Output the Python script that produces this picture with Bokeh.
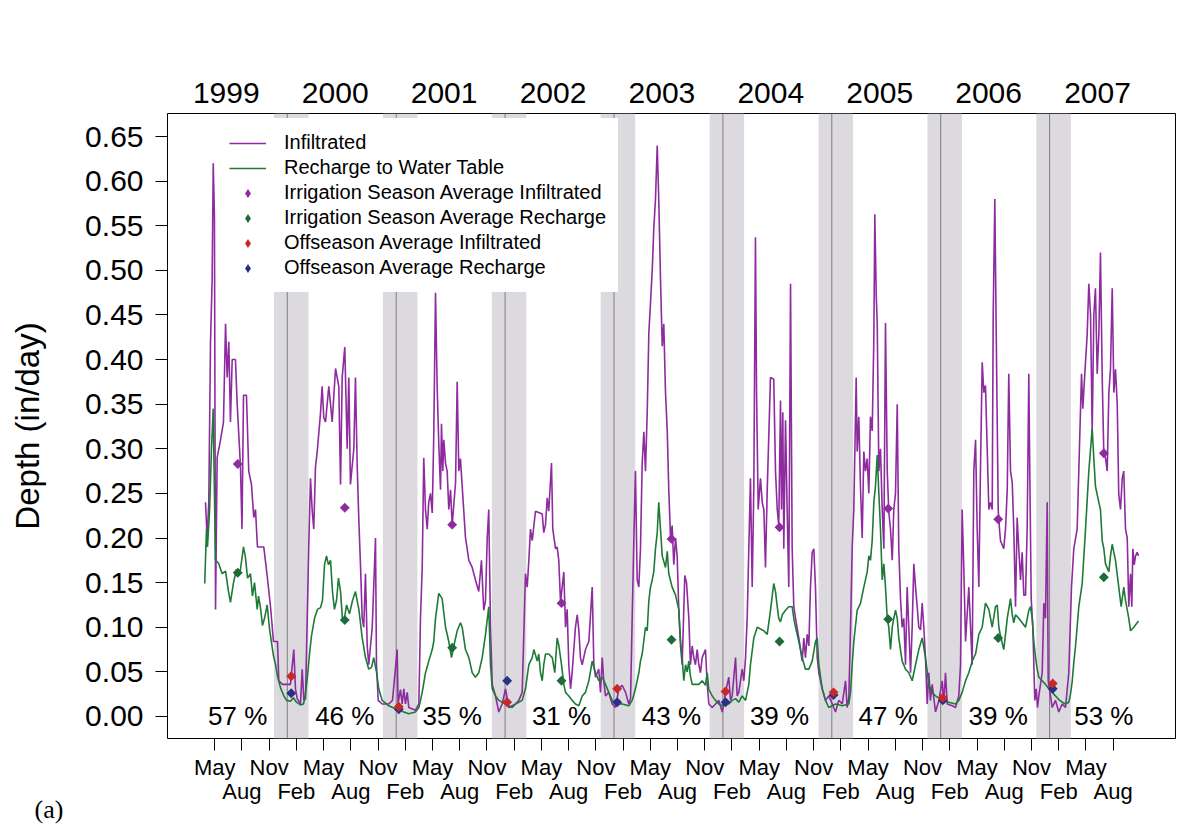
import numpy as np
from bokeh.plotting import figure
from bokeh.models import (FixedTicker, Range1d, LinearAxis, Legend, LegendItem,
                          BoxAnnotation, Span, Title, PrintfTickFormatter)
from bokeh.embed import file_html
from bokeh.resources import INLINE
from bokeh.core.properties import value

# ---------------- data (time in decimal years, depth in in/day) ----------------
inf_t = [1999.249, 1999.264, 1999.279, 1999.295, 1999.310, 1999.320, 1999.331, 1999.341, 1999.356, 1999.387,
         1999.414, 1999.433, 1999.448, 1999.463, 1999.478, 1999.494, 1999.524, 1999.540, 1999.570, 1999.584,
         1999.598, 1999.625, 1999.646, 1999.671, 1999.692, 1999.708, 1999.726, 1999.754, 1999.784, 1999.815,
         1999.846, 1999.873, 1999.910, 1999.922, 1999.956, 1999.993, 2000.029, 2000.060, 2000.075, 2000.091,
         2000.121, 2000.137, 2000.152, 2000.167, 2000.183, 2000.197, 2000.213, 2000.229, 2000.243, 2000.259,
         2000.275, 2000.305, 2000.320, 2000.335, 2000.351, 2000.381, 2000.397, 2000.412, 2000.443, 2000.473,
         2000.489, 2000.504, 2000.528, 2000.550, 2000.565, 2000.580, 2000.611, 2000.626, 2000.642, 2000.657,
         2000.672, 2000.688, 2000.702, 2000.718, 2000.734, 2000.748, 2000.780, 2000.810, 2000.819, 2000.835,
         2000.871, 2000.932, 2000.966, 2001.009, 2001.017, 2001.039, 2001.055, 2001.070, 2001.085, 2001.101,
         2001.116, 2001.177, 2001.208, 2001.223, 2001.239, 2001.253, 2001.269, 2001.285, 2001.299, 2001.315,
         2001.331, 2001.345, 2001.361, 2001.376, 2001.391, 2001.407, 2001.416, 2001.428, 2001.437, 2001.453,
         2001.468, 2001.483, 2001.499, 2001.514, 2001.545, 2001.560, 2001.575, 2001.590, 2001.606, 2001.636,
         2001.667, 2001.698, 2001.728, 2001.758, 2001.783, 2001.804, 2001.820, 2001.836, 2001.850, 2001.866,
         2001.882, 2001.912, 2001.942, 2001.973, 2002.004, 2002.034, 2002.096, 2002.126, 2002.157, 2002.187,
         2002.203, 2002.218, 2002.233, 2002.249, 2002.279, 2002.341, 2002.355, 2002.371, 2002.387, 2002.401,
         2002.426, 2002.438, 2002.463, 2002.478, 2002.493, 2002.509, 2002.539, 2002.555, 2002.570, 2002.585,
         2002.601, 2002.616, 2002.646, 2002.662, 2002.677, 2002.692, 2002.708, 2002.738, 2002.769, 2002.800,
         2002.815, 2002.830, 2002.860, 2002.876, 2002.892, 2002.906, 2002.922, 2002.952, 2002.983, 2003.014,
         2003.044, 2003.075, 2003.106, 2003.136, 2003.152, 2003.167, 2003.182, 2003.197, 2003.213, 2003.228,
         2003.243, 2003.259, 2003.274, 2003.289, 2003.305, 2003.320, 2003.335, 2003.351, 2003.365, 2003.381,
         2003.397, 2003.411, 2003.427, 2003.443, 2003.457, 2003.473, 2003.489, 2003.503, 2003.519, 2003.534,
         2003.549, 2003.565, 2003.580, 2003.595, 2003.611, 2003.626, 2003.650, 2003.666, 2003.687, 2003.702,
         2003.718, 2003.733, 2003.748, 2003.764, 2003.779, 2003.794, 2003.810, 2003.840, 2003.856, 2003.871,
         2003.902, 2003.932, 2003.962, 2003.994, 2004.008, 2004.024, 2004.054, 2004.070, 2004.085, 2004.116,
         2004.131, 2004.146, 2004.177, 2004.192, 2004.208, 2004.223, 2004.238, 2004.253, 2004.269, 2004.284,
         2004.299, 2004.309, 2004.324, 2004.345, 2004.361, 2004.376, 2004.391, 2004.407, 2004.437, 2004.467,
         2004.483, 2004.499, 2004.513, 2004.529, 2004.538, 2004.550, 2004.559, 2004.575, 2004.590, 2004.605,
         2004.621, 2004.636, 2004.651, 2004.667, 2004.697, 2004.728, 2004.743, 2004.758, 2004.774, 2004.789,
         2004.804, 2004.820, 2004.835, 2004.850, 2004.866, 2004.881, 2004.912, 2004.942, 2004.972, 2005.004,
         2005.034, 2005.064, 2005.096, 2005.126, 2005.141, 2005.156, 2005.172, 2005.187, 2005.202, 2005.224,
         2005.233, 2005.248, 2005.264, 2005.279, 2005.294, 2005.309, 2005.325, 2005.340, 2005.355, 2005.371,
         2005.386, 2005.395, 2005.408, 2005.417, 2005.432, 2005.447, 2005.463, 2005.478, 2005.493, 2005.509,
         2005.523, 2005.539, 2005.555, 2005.569, 2005.585, 2005.601, 2005.615, 2005.631, 2005.646, 2005.661,
         2005.677, 2005.692, 2005.707, 2005.723, 2005.738, 2005.753, 2005.769, 2005.784, 2005.799, 2005.815,
         2005.830, 2005.845, 2005.860, 2005.876, 2005.891, 2005.906, 2005.922, 2005.952, 2005.983, 2006.014,
         2006.028, 2006.044, 2006.060, 2006.106, 2006.136, 2006.166, 2006.182, 2006.197, 2006.212, 2006.228,
         2006.258, 2006.274, 2006.289, 2006.304, 2006.320, 2006.335, 2006.350, 2006.365, 2006.381, 2006.396,
         2006.411, 2006.427, 2006.442, 2006.457, 2006.473, 2006.482, 2006.497, 2006.508, 2006.528, 2006.540,
         2006.549, 2006.579, 2006.595, 2006.611, 2006.625, 2006.641, 2006.657, 2006.671, 2006.687, 2006.702,
         2006.717, 2006.733, 2006.748, 2006.763, 2006.779, 2006.794, 2006.809, 2006.818, 2006.831, 2006.846,
         2006.864, 2006.877, 2006.889, 2006.901, 2006.932, 2006.947, 2006.962, 2006.978, 2006.987, 2007.008,
         2007.024, 2007.054, 2007.084, 2007.116, 2007.146, 2007.176, 2007.201, 2007.222, 2007.253, 2007.268,
         2007.293, 2007.305, 2007.323, 2007.345, 2007.360, 2007.376, 2007.391, 2007.406, 2007.421, 2007.437,
         2007.452, 2007.467, 2007.483, 2007.498, 2007.513, 2007.529, 2007.544, 2007.559, 2007.575, 2007.590,
         2007.605, 2007.621, 2007.635, 2007.651, 2007.667, 2007.681, 2007.697, 2007.713, 2007.727, 2007.743,
         2007.755, 2007.764, 2007.777, 2007.789, 2007.804, 2007.816]
inf_v = [0.24, 0.20, 0.24, 0.42, 0.49, 0.62, 0.56, 0.12, 0.29, 0.31,
         0.33, 0.44, 0.38, 0.42, 0.33, 0.40, 0.40, 0.35, 0.28, 0.21,
         0.36, 0.36, 0.275, 0.26, 0.223, 0.232, 0.19, 0.19, 0.19, 0.158,
         0.123, 0.084, 0.084, 0.04, 0.036, 0.036, 0.036, 0.075, 0.031, 0.02,
         0.014, 0.053, 0.018, 0.02, 0.11, 0.19, 0.267, 0.23, 0.21, 0.28,
         0.297, 0.34, 0.37, 0.335, 0.33, 0.37, 0.35, 0.33, 0.39, 0.37,
         0.26, 0.38, 0.414, 0.30, 0.38, 0.26, 0.30, 0.38, 0.28, 0.22,
         0.17, 0.11, 0.10, 0.16, 0.079, 0.058, 0.10, 0.20, 0.058, 0.018,
         0.014, 0.014, 0.018, 0.075, 0.014, 0.03, 0.014, 0.031, 0.014, 0.027,
         0.01, 0.007, 0.014, 0.11, 0.167, 0.29, 0.232, 0.21, 0.24, 0.25,
         0.228, 0.315, 0.475, 0.37, 0.306, 0.254, 0.328, 0.275, 0.31, 0.284,
         0.275, 0.232, 0.254, 0.214, 0.262, 0.375, 0.275, 0.289, 0.258, 0.201,
         0.175, 0.167, 0.153, 0.14, 0.175, 0.119, 0.13, 0.2, 0.232, 0.10,
         0.036, 0.023, 0.005, 0.014, 0.031, 0.01, 0.014, 0.018, 0.027, 0.16,
         0.145, 0.175, 0.21, 0.197, 0.23, 0.227, 0.206, 0.215, 0.245, 0.23,
         0.284, 0.21, 0.188, 0.19, 0.175, 0.128, 0.162, 0.10, 0.12, 0.058,
         0.031, 0.05, 0.10, 0.114, 0.097, 0.066, 0.058, 0.075, 0.084, 0.145,
         0.058, 0.044, 0.053, 0.027, 0.066, 0.04, 0.023, 0.027, 0.014, 0.01,
         0.031, 0.035, 0.027, 0.014, 0.02, 0.11, 0.197, 0.275, 0.153, 0.145,
         0.188, 0.284, 0.319, 0.275, 0.341, 0.43, 0.463, 0.50, 0.546, 0.58,
         0.64, 0.58, 0.49, 0.415, 0.44, 0.363, 0.32, 0.254, 0.2, 0.214,
         0.17, 0.2, 0.18, 0.119, 0.079, 0.058, 0.158, 0.15, 0.11, 0.058,
         0.079, 0.066, 0.058, 0.075, 0.058, 0.049, 0.066, 0.075, 0.036, 0.014,
         0.01, 0.014, 0.018, 0.005, 0.014, 0.027, 0.044, 0.018, 0.023, 0.066,
         0.023, 0.027, 0.053, 0.04, 0.066, 0.11, 0.188, 0.267, 0.145, 0.258,
         0.537, 0.363, 0.232, 0.267, 0.24, 0.232, 0.167, 0.254, 0.38, 0.378,
         0.275, 0.232, 0.214, 0.354, 0.232, 0.341, 0.188, 0.332, 0.232, 0.145,
         0.485, 0.188, 0.123, 0.11, 0.088, 0.062, 0.088, 0.066, 0.092, 0.079,
         0.145, 0.184, 0.188, 0.145, 0.066, 0.049, 0.031, 0.018, 0.023, 0.014,
         0.005, 0.018, 0.014, 0.04, 0.01, 0.02, 0.10, 0.188, 0.232, 0.38,
         0.297, 0.336, 0.254, 0.2, 0.297, 0.275, 0.289, 0.25, 0.336, 0.32,
         0.424, 0.563, 0.472, 0.441, 0.275, 0.30, 0.232, 0.188, 0.441, 0.275,
         0.23, 0.21, 0.175, 0.232, 0.25, 0.35, 0.188, 0.132, 0.10, 0.11,
         0.058, 0.145, 0.10, 0.049, 0.10, 0.171, 0.145, 0.123, 0.10, 0.097,
         0.127, 0.10, 0.066, 0.014, 0.049, 0.018, 0.036, 0.005, 0.018, 0.04,
         0.014, 0.049, 0.014, 0.012, 0.01, 0.023, 0.058, 0.232, 0.167, 0.084,
         0.145, 0.10, 0.058, 0.275, 0.31, 0.21, 0.145, 0.275, 0.397, 0.363,
         0.371, 0.30, 0.232, 0.24, 0.232, 0.45, 0.58, 0.45, 0.232, 0.21,
         0.197, 0.188, 0.21, 0.254, 0.384, 0.275, 0.262, 0.21, 0.123, 0.223,
         0.188, 0.153, 0.184, 0.136, 0.136, 0.21, 0.384, 0.275, 0.132, 0.10,
         0.018, 0.031, 0.01, 0.023, 0.049, 0.127, 0.11, 0.24, 0.04, 0.023,
         0.01, 0.018, 0.005, 0.014, 0.01, 0.049, 0.145, 0.188, 0.21, 0.275,
         0.384, 0.345, 0.384, 0.428, 0.485, 0.45, 0.319, 0.45, 0.48, 0.384,
         0.428, 0.52, 0.38, 0.293, 0.29, 0.275, 0.363, 0.389, 0.48, 0.363,
         0.389, 0.35, 0.249, 0.232, 0.267, 0.275, 0.21, 0.2, 0.123, 0.16,
         0.123, 0.188, 0.17, 0.18, 0.184, 0.18]

rch_t = [1999.242, 1999.258, 1999.267, 1999.286, 1999.304, 1999.320, 1999.331, 1999.341, 1999.368, 1999.402,
         1999.433, 1999.460, 1999.478, 1999.506, 1999.534, 1999.552, 1999.570, 1999.598, 1999.616, 1999.635,
         1999.662, 1999.680, 1999.699, 1999.724, 1999.736, 1999.754, 1999.772, 1999.791, 1999.815, 1999.837,
         1999.855, 1999.873, 1999.892, 1999.910, 1999.938, 1999.965, 1999.993, 2000.029, 2000.057, 2000.084,
         2000.121, 2000.149, 2000.167, 2000.185, 2000.204, 2000.222, 2000.250, 2000.277, 2000.305, 2000.323,
         2000.342, 2000.360, 2000.378, 2000.397, 2000.415, 2000.433, 2000.452, 2000.470, 2000.489, 2000.507,
         2000.525, 2000.544, 2000.571, 2000.599, 2000.626, 2000.657, 2000.688, 2000.718, 2000.748, 2000.773,
         2000.794, 2000.819, 2000.840, 2000.871, 2000.932, 2001.024, 2001.116, 2001.177, 2001.208, 2001.239,
         2001.269, 2001.299, 2001.331, 2001.345, 2001.361, 2001.391, 2001.422, 2001.453, 2001.483, 2001.508,
         2001.529, 2001.560, 2001.590, 2001.606, 2001.636, 2001.667, 2001.698, 2001.728, 2001.758, 2001.790,
         2001.820, 2001.850, 2001.866, 2001.882, 2001.912, 2001.942, 2002.004, 2002.065, 2002.096, 2002.157,
         2002.187, 2002.218, 2002.249, 2002.264, 2002.279, 2002.295, 2002.309, 2002.325, 2002.341, 2002.355,
         2002.371, 2002.401, 2002.433, 2002.456, 2002.478, 2002.493, 2002.518, 2002.539, 2002.555, 2002.585,
         2002.616, 2002.646, 2002.677, 2002.708, 2002.738, 2002.769, 2002.800, 2002.830, 2002.860, 2002.892,
         2002.922, 2002.952, 2002.983, 2003.014, 2003.075, 2003.136, 2003.167, 2003.197, 2003.228, 2003.243,
         2003.259, 2003.289, 2003.305, 2003.320, 2003.335, 2003.351, 2003.365, 2003.381, 2003.397, 2003.411,
         2003.427, 2003.443, 2003.473, 2003.489, 2003.503, 2003.534, 2003.565, 2003.595, 2003.611, 2003.626,
         2003.641, 2003.657, 2003.672, 2003.687, 2003.702, 2003.718, 2003.748, 2003.779, 2003.810, 2003.840,
         2003.856, 2003.871, 2003.902, 2003.932, 2003.962, 2003.994, 2004.024, 2004.054, 2004.085, 2004.116,
         2004.146, 2004.177, 2004.208, 2004.223, 2004.238, 2004.253, 2004.284, 2004.315, 2004.345, 2004.376,
         2004.407, 2004.437, 2004.467, 2004.483, 2004.499, 2004.513, 2004.529, 2004.545, 2004.575, 2004.605,
         2004.636, 2004.651, 2004.667, 2004.697, 2004.728, 2004.758, 2004.789, 2004.820, 2004.850, 2004.866,
         2004.881, 2004.912, 2004.942, 2004.972, 2005.034, 2005.096, 2005.156, 2005.172, 2005.187, 2005.202,
         2005.233, 2005.264, 2005.294, 2005.325, 2005.340, 2005.355, 2005.371, 2005.386, 2005.401, 2005.417,
         2005.432, 2005.447, 2005.463, 2005.478, 2005.493, 2005.509, 2005.523, 2005.539, 2005.555, 2005.569,
         2005.585, 2005.601, 2005.615, 2005.646, 2005.677, 2005.707, 2005.738, 2005.769, 2005.799, 2005.830,
         2005.860, 2005.891, 2005.922, 2005.952, 2006.014, 2006.074, 2006.136, 2006.166, 2006.197, 2006.228,
         2006.258, 2006.289, 2006.320, 2006.350, 2006.381, 2006.411, 2006.442, 2006.473, 2006.503, 2006.519,
         2006.534, 2006.549, 2006.579, 2006.595, 2006.611, 2006.641, 2006.657, 2006.671, 2006.687, 2006.717,
         2006.748, 2006.779, 2006.809, 2006.825, 2006.840, 2006.855, 2006.871, 2006.886, 2006.901, 2006.932,
         2006.962, 2006.993, 2007.024, 2007.054, 2007.084, 2007.116, 2007.146, 2007.176, 2007.192, 2007.208,
         2007.222, 2007.238, 2007.268, 2007.299, 2007.330, 2007.360, 2007.391, 2007.406, 2007.421, 2007.452,
         2007.467, 2007.483, 2007.498, 2007.513, 2007.544, 2007.559, 2007.575, 2007.590, 2007.605, 2007.635,
         2007.657, 2007.681, 2007.697, 2007.727, 2007.743, 2007.773, 2007.804, 2007.816]
rch_v = [0.149, 0.21, 0.19, 0.23, 0.30, 0.345, 0.25, 0.175, 0.172, 0.160,
         0.163, 0.14, 0.128, 0.15, 0.165, 0.158, 0.165, 0.19, 0.178, 0.155,
         0.16, 0.135, 0.15, 0.12, 0.135, 0.122, 0.102, 0.11, 0.125, 0.098,
         0.083, 0.068, 0.058, 0.045, 0.032, 0.024, 0.018, 0.017, 0.021, 0.016,
         0.013, 0.014, 0.025, 0.045, 0.07, 0.09, 0.11, 0.12, 0.122, 0.13,
         0.17, 0.18, 0.17, 0.175, 0.14, 0.12, 0.13, 0.155, 0.14, 0.108,
         0.11, 0.125, 0.115, 0.13, 0.14, 0.12, 0.088, 0.066, 0.053, 0.055,
         0.066, 0.05, 0.031, 0.018, 0.012, 0.007, 0.003, 0.005, 0.01, 0.027,
         0.049, 0.062, 0.075, 0.084, 0.11, 0.138, 0.132, 0.10, 0.084, 0.066,
         0.079, 0.096, 0.105, 0.10, 0.075, 0.066, 0.049, 0.044, 0.049, 0.066,
         0.092, 0.123, 0.058, 0.031, 0.023, 0.018, 0.014, 0.01, 0.014, 0.018,
         0.031, 0.058, 0.066, 0.075, 0.069, 0.062, 0.07, 0.049, 0.04, 0.058,
         0.07, 0.07, 0.066, 0.049, 0.088, 0.08, 0.058, 0.036, 0.027, 0.023,
         0.018, 0.014, 0.012, 0.023, 0.027, 0.04, 0.062, 0.049, 0.04, 0.044,
         0.036, 0.027, 0.018, 0.014, 0.014, 0.012, 0.018, 0.031, 0.049, 0.062,
         0.07, 0.10, 0.096, 0.13, 0.145, 0.153, 0.162, 0.188, 0.206, 0.24,
         0.21, 0.18, 0.167, 0.185, 0.16, 0.145, 0.136, 0.12, 0.084, 0.066,
         0.04, 0.058, 0.05, 0.062, 0.045, 0.036, 0.036, 0.036, 0.04, 0.035,
         0.049, 0.03, 0.023, 0.018, 0.014, 0.012, 0.016, 0.014, 0.018, 0.02,
         0.016, 0.023, 0.018, 0.027, 0.036, 0.058, 0.088, 0.10, 0.098, 0.096,
         0.092, 0.119, 0.149, 0.14, 0.123, 0.11, 0.106, 0.114, 0.119, 0.123,
         0.123, 0.11, 0.10, 0.084, 0.066, 0.053, 0.053, 0.062, 0.084, 0.088,
         0.058, 0.031, 0.018, 0.01, 0.014, 0.012, 0.014, 0.027, 0.058, 0.084,
         0.119, 0.127, 0.145, 0.162, 0.18, 0.175, 0.197, 0.24, 0.258, 0.293,
         0.25, 0.21, 0.153, 0.171, 0.145, 0.11, 0.10, 0.075, 0.10, 0.11,
         0.119, 0.11, 0.088, 0.062, 0.053, 0.049, 0.04, 0.058, 0.075, 0.088,
         0.066, 0.036, 0.027, 0.023, 0.018, 0.016, 0.014, 0.018, 0.027, 0.04,
         0.049, 0.062, 0.07, 0.092, 0.10, 0.127, 0.12, 0.10, 0.123, 0.125,
         0.10, 0.09, 0.075, 0.092, 0.11, 0.132, 0.114, 0.105, 0.114, 0.11,
         0.105, 0.10, 0.119, 0.123, 0.11, 0.084, 0.066, 0.053, 0.044, 0.04,
         0.036, 0.031, 0.027, 0.023, 0.019, 0.016, 0.014, 0.016, 0.025, 0.04,
         0.06, 0.079, 0.123, 0.149, 0.21, 0.275, 0.323, 0.289, 0.258, 0.24,
         0.232, 0.197, 0.188, 0.171, 0.162, 0.18, 0.193, 0.184, 0.175, 0.145,
         0.123, 0.145, 0.13, 0.11, 0.096, 0.10, 0.105, 0.107]

# season averages
irr_t = [1999.545, 2000.528, 2001.514, 2002.518, 2003.528, 2004.520, 2005.518, 2006.528, 2007.498]
irr_inf = [0.283, 0.234, 0.215, 0.127, 0.199, 0.212, 0.233, 0.221, 0.295]
irr_rch = [0.161, 0.108, 0.077, 0.040, 0.086, 0.084, 0.109, 0.088, 0.156]
pct = [57, 46, 35, 31, 43, 39, 47, 39, 53]

off_t = [2000.036, 2001.024, 2002.019, 2003.029, 2004.024, 2005.016, 2006.019, 2007.029]
off_inf = [0.045, 0.011, 0.016, 0.031, 0.028, 0.027, 0.021, 0.037]
off_rch = [0.026, 0.008, 0.040, 0.016, 0.016, 0.024, 0.018, 0.031]

years = [1999, 2000, 2001, 2002, 2003, 2004, 2005, 2006, 2007]
y_ticks = [0.00, 0.05, 0.10, 0.15, 0.20, 0.25, 0.30, 0.35, 0.40, 0.45, 0.50, 0.55, 0.60, 0.65]
month_names = {2: "Feb", 5: "May", 8: "Aug", 11: "Nov"}
offseason_start, offseason_end = -0.122, 0.195   # relative to Jan 1

# ---------------- styling ----------------
FONT = "Liberation Sans"
PURPLE = "#8e2b9f"
GREEN = "#1f7a37"
GREEN_PT = "#1d6b38"
RED = "#c9282a"
BLUE = "#2b2f86"
BAND = "#dcdadf"

p = figure(width=1189, height=834, output_backend="svg", toolbar_location=None,
           x_range=Range1d(1998.900, 2008.156), y_range=Range1d(-0.0247, 0.6758),
           min_border_left=167, min_border_right=14, min_border_top=113, min_border_bottom=96,
           background_fill_color="white", border_fill_color="white",
           outline_line_color="black", outline_line_width=1)
p.xgrid.visible = False
p.ygrid.visible = False

# offseason bands and year boundaries
for y in years[1:]:
    p.add_layout(BoxAnnotation(left=y + offseason_start, right=y + offseason_end,
                               fill_color=BAND, fill_alpha=1.0, line_color=None, level="underlay"))
    p.add_layout(Span(location=y, dimension="height", line_color="#7d7d7d",
                      line_width=1, level="underlay"))

r_inf = p.line(inf_t, inf_v, line_color=PURPLE, line_width=1.6)
r_rch = p.line(rch_t, rch_v, line_color=GREEN, line_width=1.6)

dkw = dict(marker="square", angle=np.pi / 4, size=7, line_width=0)
p.scatter(irr_t, irr_inf, fill_color=PURPLE, **dkw)
p.scatter(irr_t, irr_rch, fill_color=GREEN_PT, **dkw)
p.scatter(off_t, off_rch, fill_color=BLUE, **dkw)
p.scatter(off_t, off_inf, fill_color=RED, **dkw)

p.text(x=irr_t, y=[0] * len(irr_t), text=[f"{v} %" for v in pct],
       text_font=value(FONT), text_font_size="26px", text_color="black",
       text_align="center", text_baseline="middle")

# legend proxies (not drawn in the plot: NaN positions)
lg_pi = p.scatter([np.nan], [np.nan], marker="diamond", fill_color=PURPLE, line_color=None)
lg_gi = p.scatter([np.nan], [np.nan], marker="diamond", fill_color=GREEN_PT, line_color=None)
lg_ro = p.scatter([np.nan], [np.nan], marker="diamond", fill_color=RED, line_color=None)
lg_bo = p.scatter([np.nan], [np.nan], marker="diamond", fill_color=BLUE, line_color=None)

legend = Legend(items=[
    LegendItem(label=value("Infiltrated"), renderers=[r_inf]),
    LegendItem(label=value("Recharge to Water Table"), renderers=[r_rch]),
    LegendItem(label=value("Irrigation Season Average Infiltrated"), renderers=[lg_pi]),
    LegendItem(label=value("Irrigation Season Average Recharge"), renderers=[lg_gi]),
    LegendItem(label=value("Offseason Average Infiltrated"), renderers=[lg_ro]),
    LegendItem(label=value("Offseason Average Recharge"), renderers=[lg_bo]),
], location=(50, 446), margin=0, padding=0, spacing=0,
    glyph_width=37, glyph_height=22, label_height=25, label_standoff=18,
    label_text_font=FONT, label_text_font_size="20px", label_text_color="black",
    border_line_color="white", border_line_width=12,
    background_fill_color="white", background_fill_alpha=1.0)
p.add_layout(legend)

# y axis
ya = p.yaxis[0]
ya.ticker = FixedTicker(ticks=y_ticks)
ya.formatter = PrintfTickFormatter(format="%.2f")
ya.axis_line_color = None
ya.major_tick_out = 12
ya.major_tick_in = 0
ya.minor_tick_line_color = None
ya.major_tick_line_color = "black"
ya.major_label_standoff = 12
ya.major_label_text_font = FONT
ya.major_label_text_font_size = "30px"
ya.major_label_text_color = "black"
ya.axis_label = "Depth (in/day)"
ya.axis_label_text_font = FONT
ya.axis_label_text_font_size = "33px"
ya.axis_label_text_font_style = "normal"
ya.axis_label_text_color = "black"
ya.axis_label_standoff = 36

# bottom month axis
month_ticks, month_labels = [], {}
for y in years + [2008]:
    for m in (2, 5, 8, 11):
        t = y + (m - 1) / 12
        if 1999 + 4 / 12 - 1e-9 <= t <= 2007 + 7 / 12 + 1e-9:
            month_ticks.append(t)
            month_labels[t] = month_names[m] if m in (5, 11) else "\n" + month_names[m]
xa = p.xaxis[0]
xa.ticker = FixedTicker(ticks=month_ticks)
xa.major_label_overrides = month_labels
xa.axis_line_color = None
xa.major_tick_out = 12
xa.major_tick_in = 0
xa.minor_tick_line_color = None
xa.major_tick_line_color = "black"
xa.major_label_standoff = 4
xa.major_label_text_font = FONT
xa.major_label_text_font_size = "22px"
xa.major_label_text_line_height = 0.98
xa.major_label_text_color = "black"

# top year axis
year_pos = [y + 0.44 for y in years]
top = LinearAxis(ticker=FixedTicker(ticks=year_pos),
                 major_label_overrides={t: str(y) for t, y in zip(year_pos, years)},
                 axis_line_color=None, major_tick_line_color=None, minor_tick_line_color=None,
                 major_label_standoff=5, major_label_text_font=FONT,
                 major_label_text_font_size="30px", major_label_text_color="black")
p.add_layout(top, "above")

# panel tag "(a)" in the bottom margin
p.add_layout(Title(text="(a)", align="left", offset=-133, standoff=-30,
                   text_font="Liberation Serif", text_font_size="26px",
                   text_font_style="normal", text_color="black"), "below")

open("out.html", "w").write(file_html(p, INLINE))
